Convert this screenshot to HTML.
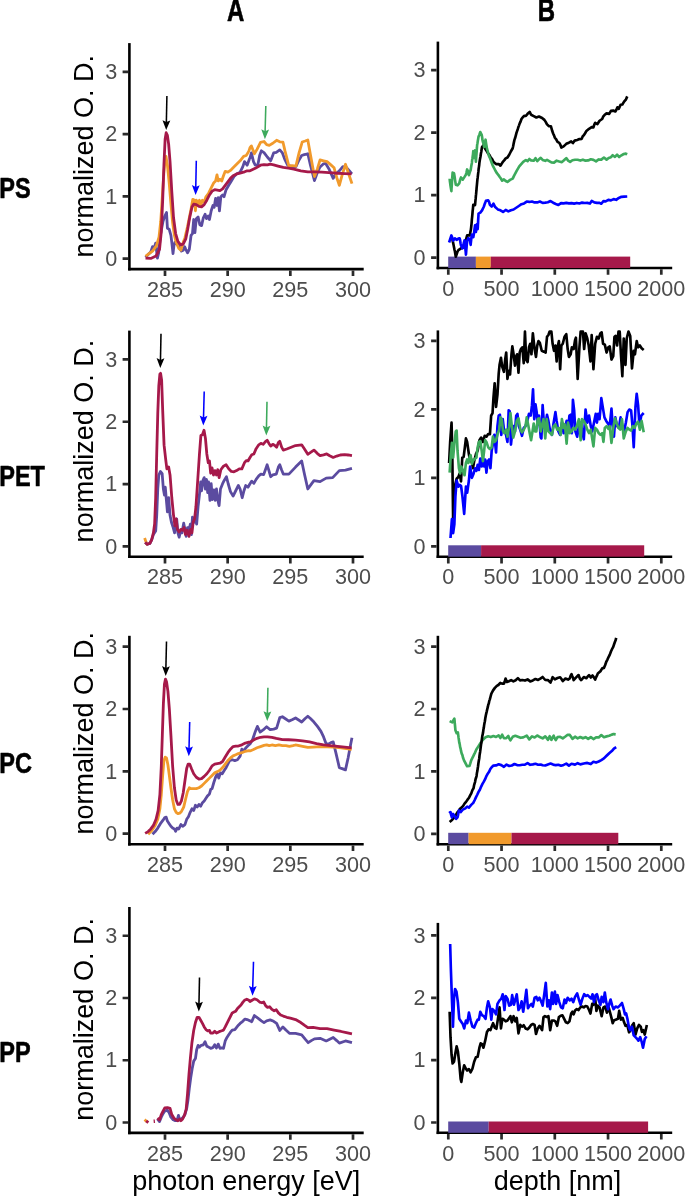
<!DOCTYPE html>
<html lang="en">
<head>
<meta charset="utf-8">
<title>NEXAFS spectra and depth profiles</title>
<style>html,body{margin:0;padding:0;background:#fff}svg{display:block;will-change:transform}</style>
</head>
<body>
<svg width="685" height="1198" viewBox="0 0 685 1198" font-family="&quot;Liberation Sans&quot;, Arial, Helvetica, sans-serif">
<rect x="0" y="0" width="685" height="1198" fill="#fff"/>
<path d="M129.4 43.1V270.4" stroke="#000" stroke-width="2.6" fill="none"/>
<path d="M128.1 269.1H363.7" stroke="#000" stroke-width="2.6" fill="none"/>
<path d="M122.6 258.7h5.5M122.6 196.43h5.5M122.6 134.16h5.5M122.6 71.89h5.5M165 270.4v5.5M227.66 270.4v5.5M290.33 270.4v5.5M353 270.4v5.5" stroke="#2b2b2b" stroke-width="2.7" fill="none"/>
<g font-size="21.6" fill="#4D4D4D">
<text x="117.2" y="265.9" text-anchor="end">0</text>
<text x="117.2" y="203.63" text-anchor="end">1</text>
<text x="117.2" y="141.36" text-anchor="end">2</text>
<text x="117.2" y="79.09" text-anchor="end">3</text>
<text x="165" y="296.8" text-anchor="middle">285</text>
<text x="227.66" y="296.8" text-anchor="middle">290</text>
<text x="290.33" y="296.8" text-anchor="middle">295</text>
<text x="353" y="296.8" text-anchor="middle">300</text>
</g>
<path d="M437.9 41.6V269.3" stroke="#000" stroke-width="2.6" fill="none"/>
<path d="M436.6 268H672.2" stroke="#000" stroke-width="2.6" fill="none"/>
<path d="M431.1 257.6h5.5M431.1 195.13h5.5M431.1 132.66h5.5M431.1 70.19h5.5M448.3 269.3v5.5M501.55 269.3v5.5M554.8 269.3v5.5M608.05 269.3v5.5M661.3 269.3v5.5" stroke="#2b2b2b" stroke-width="2.7" fill="none"/>
<g font-size="21.6" fill="#4D4D4D">
<text x="425.4" y="264.8" text-anchor="end">0</text>
<text x="425.4" y="202.33" text-anchor="end">1</text>
<text x="425.4" y="139.86" text-anchor="end">2</text>
<text x="425.4" y="77.39" text-anchor="end">3</text>
<text x="448.3" y="295.7" text-anchor="middle">0</text>
<text x="501.55" y="295.7" text-anchor="middle">500</text>
<text x="554.8" y="295.7" text-anchor="middle">1000</text>
<text x="608.05" y="295.7" text-anchor="middle">1500</text>
<text x="661.3" y="295.7" text-anchor="middle">2000</text>
</g>
<rect x="448.2" y="256.6" width="27.7" height="11.4" fill="#5B4BA0"/>
<rect x="475.9" y="256.6" width="14.9" height="11.4" fill="#F19A2C"/>
<rect x="490.8" y="256.6" width="139.4" height="11.4" fill="#A6194A"/>
<path d="M145.51 257.2L148.14 254.57L150.77 251.94L152.52 246.69L154.27 247.56L155.67 243.18L157.42 258.08L158.65 252.82L160.4 235.29L163.03 221.27L164.78 216.01L166.53 212.5L167.41 228.28L169.16 229.16L170.91 235.29L171.79 242.3L173.01 253.7L173.89 245.81L174.94 242.3L177.04 244.06L179.67 247.56L181.42 251.07L183.18 250.19L184.58 246.69L185.8 249.32L187.55 252.82L189.31 249.32L191.06 235.29L192.46 233.54L193.69 219.52L194.91 232.66L196.31 218.64L198.07 216.89L199.82 224.77L201.57 225.65L203.32 217.76L205.07 214.26L206.47 218.64L208.23 216.01L209.45 219.52L211.2 210.75L212.96 205.49L214.18 207.25L215.58 198.48L216.99 205.49L218.21 197.6L219.44 210.75L220.84 196.73L222.59 194.97L223.99 196.73L226.09 189.72L228.72 185.33L231.35 180.95L233.98 176.57L236.61 173.94L240.11 172.19L242.74 166.93L244.49 161.67L247.12 165.18L249.74 158.16L250 158.16L251.4 152.9L253.5 161.67L255.26 165.18L257.88 164.82L259.64 155.53L261.39 150.8L264.01 152.55L267.52 157.29L270.67 160.79L273.65 152.9L276.28 152.38L279.78 149.92L282.41 152.9L285.04 159.92L287.66 165.18L292.04 166.58L295.9 166.58L299.05 159.92L301.68 155.53L304.31 154.66L307.81 153.78L310.44 165.18L314.47 180.6L317.45 172.19L320.07 166.93L323.58 163.77L325.68 163.42L328.83 168.68L333.21 178.32L335.84 173.94L339.34 170.78L342.85 166.58L346.35 167.28L348.98 170.43L351.96 173.94" stroke="#5B4BA0" stroke-width="2.8" fill="none" stroke-linejoin="round" stroke-linecap="butt"/>
<path d="M145.51 256.33L149.01 253.7L152.52 251.07L156.37 245.81L159 237.05L160.75 221.27L162.33 196.73L163.91 172.19L165.13 159.04L166.01 156.41L167.41 165.18L169.16 182.7L170.91 203.74L172.66 223.02L174.42 235.29L176.17 242.3L178.8 248.44L180.9 250.19L183.18 242.3L184.93 237.92L187.55 226.53L191.06 209L192.81 199.36L194.56 200.23L195.44 210.75L196.31 200.23L198.07 203.74L199.47 200.23L200.69 205.49L202.45 200.23L204.2 201.99L205.95 196.73L208.58 193.22L211.2 187.96L213.83 182.7L215.58 180.95L216.99 174.82L218.21 180.95L219.96 179.2L221.72 180.95L223.47 175.69L225.22 171.31L227.85 172.19L230.47 170.43L233.1 167.8L236.61 164.3L240.11 160.79L243.61 156.41L246.24 155.53L248.87 151.15L250 147.65L251.4 145.89L254.38 153.78L257.01 149.4L260.51 142.39L264.01 141.51L266.64 144.67L269.27 145.37L272.77 143.26L276.63 140.28L279.78 141.86L282.93 142.04L285.04 151.15L288.89 166.05L292.04 165.53L295.9 166.05L299.05 152.9L302.2 142.04L305.18 140.98L307.81 139.93L310.44 154.66L314.47 176.57L317.45 168.68L320.07 159.92L323.58 160.79L327.08 161.67L330.58 164.65L334.09 167.8L336.72 177.45L339.34 185.33L341.97 175.69L345.47 164.3L348.1 172.19L351.96 183.58" stroke="#F19A2C" stroke-width="2.8" fill="none" stroke-linejoin="round" stroke-linecap="butt"/>
<path d="M145.51 258.08L150.77 258.43L156.02 255.98L159.53 249.32L161.28 231.79L162.68 200.23L163.91 165.18L165.13 138.88L166.18 132.75L167.41 135.38L168.64 144.14L170.04 161.67L171.79 191.47L173.54 217.76L175.64 233.54L177.92 241.43L180.55 244.93L183.18 244.06L185.8 238.8L187.55 230.03L189.66 217.76L191.93 207.25L193.69 204.09L196.31 204.62L198.94 206.37L201.57 206.89L204.2 204.62L206.82 200.23L209.45 194.97L212.08 191.12L214.71 189.72L217.34 190.07L219.96 190.59L222.59 188.84L225.22 185.33L227.85 181.83L230.47 178.32L233.1 175.69L236.61 173.94L240.11 173.06L243.61 172.19L247.12 170.78L250 170.78L255.26 168.33L260.51 165.18L264.01 164.65L267.52 164.82L270.15 164.12L273.65 164.82L278.03 166.05L283.28 167.45L288.54 168.16L293.8 169.03L300.8 170.78L307.81 171.84L314.82 171.84L321.82 172.19L328.83 172.54L337.59 173.24L344.6 173.59L351.61 173.94" stroke="#A6194A" stroke-width="2.8" fill="none" stroke-linejoin="round" stroke-linecap="butt"/>
<path d="M452.26 238.13L452.7 240.94L453.14 242.9L453.58 244.98L454.01 247.28L454.45 249.56L454.89 251.28L455.33 254.02L455.77 256.78L456.64 254.33L457.52 251.66L458.39 250.19L461.02 248.31L463.65 247.53L464.31 245.77L464.96 243.32L465.62 240.88L466.28 238.59L467.15 235.41L469.78 235.44L470.13 233.46L470.48 231.62L470.83 230.05L471.18 227.1L471.36 225.37L471.53 223.82L471.71 221.68L471.88 219.11L472.06 217.6L472.23 215.78L472.41 214.09L472.63 211.2L472.85 209.37L473.07 207.11L473.28 204.73L475.04 205.09L475.26 202.56L475.47 200.34L475.69 198.44L475.91 195.53L476.09 194.21L476.26 192.16L476.44 190.47L476.61 187.85L476.79 186.18L476.96 184.4L477.14 182.42L477.39 179.65L477.64 177.97L477.9 175.55L478.15 173.44L478.4 171.64L478.66 168.67L478.91 167.09L479.16 165.51L479.42 162.74L479.79 160.33L480.17 158.3L480.54 156.19L480.92 153.53L481.29 151.73L481.67 148.97L482.04 147.09L483.45 145.16L485.2 148.76L486.69 151.06L488.18 153.57L489.49 155.19L490.8 157.6L492.12 159.18L493.43 161.89L494.74 162.97L496.06 164.11L498.69 164.03L500.44 165.69L501.75 163.59L503.07 161.57L504.38 160.14L505.69 158.38L507.45 157.52L509.2 154.74L510.95 151.26L512.7 148.26L513.14 146.25L513.58 143.9L514.01 141.9L514.45 139.89L515.11 138.07L515.77 135.59L516.42 133.05L517.08 131.18L517.74 129.22L518.39 127.05L519.05 125.36L519.71 123.38L520.58 121.61L521.46 119L522.77 117.27L524.09 115.76L525.84 115.98L527.59 113.84L529.69 111.9L531.09 114.74L533.72 116.09L536.35 117.51L538.98 116.51L542.1 117.98L544.38 119.86L545.69 121.9L547.01 124.41L548.76 126.07L550.86 126.23L551.56 128.6L552.26 131.04L553.14 133.47L554.01 135.34L554.89 137.74L556.2 139.35L557.52 141.94L559.27 142.86L560.32 144.67L561.37 147.53L563.65 146.36L566.28 143.84L568.91 142.71L571.18 141.47L572.93 143.07L574.69 140.62L577.14 139.94L579.42 139.11L581.69 138.87L582.74 136.16L583.8 135.25L585.11 133.25L586.42 130.94L589.05 128.76L591.68 127.15L593.43 127.38L594.31 124.64L595.18 122.78L597.46 124.08L599.56 120.77L602.19 118.99L603.33 116.29L604.47 115.02L606.57 113.38L609.2 113.91L610.95 110.89L613.23 110.57L615.33 111.5L616.38 109.77L617.43 107.25L618.83 108.79L619.71 106.73L620.58 104.72L622.34 104.46L624.09 101.65L625.84 99.66L627.24 96.38" stroke="#000000" stroke-width="2.65" fill="none" stroke-linejoin="round" stroke-linecap="butt"/>
<path d="M449.64 178.58L449.93 181.54L450.22 183.65L450.51 185.88L450.95 188.61L451.39 191.11L451.52 188.38L451.66 186.66L451.8 184.98L451.93 182.53L452.07 179.86L452.2 178.39L452.34 176.22L452.48 174.26L452.61 172.65L454.01 173.27L454.36 175.29L454.72 177.47L455.07 180.07L455.42 182.38L455.77 184.65L457.52 185.29L459.27 183.43L460.15 179.82L461.02 177.46L462.77 179.66L464.53 176.9L465.93 174.58L466.34 173.03L466.74 171.16L467.15 169.43L467.74 170.78L468.32 173.17L468.91 175.15L469.78 172.33L470.66 170.06L471.07 167.39L471.47 165.02L471.88 162.97L472.16 159.98L472.44 158.38L472.72 156.06L473 154.09L473.28 151.2L473.58 153.57L473.87 155.84L474.16 157.9L474.45 154.94L474.74 153.07L475.04 150.45L475.21 152.58L475.39 155.02L475.56 156.29L475.74 158.95L475.91 161.62L476.09 158.74L476.26 156.33L476.44 154.3L476.61 152.19L476.79 149.53L476.96 147.73L477.14 144.96L477.49 143.15L477.84 140.78L478.19 138.69L478.54 136.61L479.42 134.74L480.29 131.99L481.69 134.83L482.1 136.99L482.51 140.29L482.92 141.95L483.53 143.97L484.15 146.87L484.61 144.97L485.08 142.28L485.55 139.68L485.9 142.19L486.25 144.37L486.6 146.57L486.95 148.61L487.65 150.97L488.35 153.81L489.05 156.1L489.93 158.05L490.8 160.36L491.68 162.66L492.55 165.07L493.43 166.82L494.31 168.51L495.62 171.02L496.93 173.23L498.25 174.77L499.56 176.8L500.88 178.55L502.19 180.71L503.94 179.42L505.69 181.02L507.45 181.95L510.07 179.91L512.7 178.64L514.01 175.82L515.33 173.41L516.64 170.9L517.96 168.65L519.27 166.42L520.58 164.92L523.21 161.89L525.84 159.99L527.59 161.19L529.34 159L531.09 160.38L533.72 160.65L535.47 158.19L537.23 161.2L538.98 159.27L540.73 157.88L542.63 159.92L545.26 160.85L547.01 159.85L548.76 160.87L551.39 162.41L554.01 162.64L556.64 160.66L559.27 161.45L561.9 162.13L564.53 159.71L566.28 158.13L568.03 160.61L570.13 161.87L572.41 160.24L575.04 159.8L577.66 159.77L580.29 160.57L582.92 159.66L585.55 160.64L588.18 160.42L590.8 159.25L593.43 159.84L596.06 161.31L598.69 159.45L601.31 159.65L603.94 157.52L606.57 159.63L608.67 157.93L610.95 157.16L612.7 155.24L614.98 156.95L617.08 154.71L619.18 157.03L621.46 155.3L623.74 154.01L625.84 153.62L627.24 154.19" stroke="#3DAA5C" stroke-width="2.65" fill="none" stroke-linejoin="round" stroke-linecap="butt"/>
<path d="M449.11 242.5L450.16 239.14L451.39 235.41L452.26 237.8L453.14 240.63L454.89 238.41L456.64 239.8L458.39 238.63L459.62 238.26L460.09 239.97L460.55 243.24L461.02 245.48L462.42 248.3L463.04 246.86L463.65 243.69L464.53 240.37L464.76 242.82L464.99 244.78L465.23 247.23L465.46 249.73L465.69 251.6L465.93 254.64L466.13 252.64L466.34 249.49L466.54 247.56L466.74 244.54L466.95 243.19L467.15 240.72L468.38 238.16L469.78 239.86L470.22 242.28L470.66 244.88L470.9 242.24L471.15 240.04L471.39 237.79L471.64 235.89L471.88 234.59L473.28 237.15L473.72 234.75L474.16 232.12L474.45 229.84L474.74 227.65L475.04 225.41L475.33 227.67L475.62 229.7L475.91 232.02L476.2 229.64L476.5 226.49L476.79 224.31L477.23 226.97L477.66 229.19L477.79 227.69L477.91 224.93L478.04 223.13L478.16 220.09L478.29 218.03L478.42 216.13L478.54 213.62L480.29 212.61L482.04 210.44L483.8 206.73L484.5 204.6L485.2 202.85L485.9 200.88L488.18 200.24L489.05 201.95L489.93 204.86L491.68 206.52L493.43 203.68L494.31 205.57L495.18 206.95L497.81 209.4L500.44 210.31L503.07 211.97L505.69 209.92L508.32 211.37L510.95 210.18L513.58 209.52L516.2 207.74L518.83 205.99L521.46 204.21L524.09 203.4L526.72 201.56L529.34 201.93L531.97 201.46L534.6 202.44L537.23 202.41L539.85 201.53L542.63 202.84L545.26 202.65L547.88 202.23L550.51 201.05L553.14 202.72L555.77 203.95L558.39 204.97L561.02 203.06L563.65 203.32L566.28 202.88L568.91 203.42L571.53 203.15L574.16 203.6L576.79 202.95L579.42 203.52L582.04 202.6L584.67 203.04L587.3 202.9L589.93 203.57L591.68 200.91L594.31 202.42L596.93 202.83L599.56 202.88L601.31 203.76L603.42 201.19L605.69 201.35L608.32 199.92L610.95 200.34L613.58 199.11L616.2 199.83L618.83 197.95L621.46 196.82L624.09 196.67L627.24 196.52" stroke="#0000FF" stroke-width="2.65" fill="none" stroke-linejoin="round" stroke-linecap="butt"/>
<path d="M166.9 95.9L166.34 123.3" stroke="#000000" stroke-width="1.55" fill="none"/>
<path d="M166.2 130.1L162.5 120.22L166.36 122.1L170.3 120.38Z" fill="#000000"/>
<path d="M196.3 160.8L195.74 188.2" stroke="#0000FF" stroke-width="1.55" fill="none"/>
<path d="M195.6 195L191.9 185.12L195.76 187L199.7 185.28Z" fill="#0000FF"/>
<path d="M265.8 105.9L265.08 132.4" stroke="#3DAA5C" stroke-width="1.55" fill="none"/>
<path d="M264.9 139.2L261.27 129.3L265.12 131.2L269.06 129.51Z" fill="#3DAA5C"/>
<text transform="translate(92.8 156.3) rotate(-90)" font-size="27.0" text-anchor="middle" fill="#000">normalized O. D.</text>
<text transform="translate(-0.8 198.3) scale(0.779 1)" font-size="30.2" font-weight="bold" fill="#000" stroke="#000" stroke-width="0.6" stroke-linejoin="round">PS</text>
<path d="M129.4 330.6V558" stroke="#000" stroke-width="2.6" fill="none"/>
<path d="M128.1 556.7H363.7" stroke="#000" stroke-width="2.6" fill="none"/>
<path d="M122.6 546.4h5.5M122.6 484.07h5.5M122.6 421.74h5.5M122.6 359.41h5.5M165 558v5.5M227.66 558v5.5M290.33 558v5.5M353 558v5.5" stroke="#2b2b2b" stroke-width="2.7" fill="none"/>
<g font-size="21.6" fill="#4D4D4D">
<text x="117.2" y="553.6" text-anchor="end">0</text>
<text x="117.2" y="491.27" text-anchor="end">1</text>
<text x="117.2" y="428.94" text-anchor="end">2</text>
<text x="117.2" y="366.61" text-anchor="end">3</text>
<text x="165" y="584.4" text-anchor="middle">285</text>
<text x="227.66" y="584.4" text-anchor="middle">290</text>
<text x="290.33" y="584.4" text-anchor="middle">295</text>
<text x="353" y="584.4" text-anchor="middle">300</text>
</g>
<path d="M437.9 330.4V558" stroke="#000" stroke-width="2.6" fill="none"/>
<path d="M436.6 556.7H672.2" stroke="#000" stroke-width="2.6" fill="none"/>
<path d="M431.1 546.3h5.5M431.1 477.8h5.5M431.1 409.3h5.5M431.1 340.8h5.5M448.3 558v5.5M501.55 558v5.5M554.8 558v5.5M608.05 558v5.5M661.3 558v5.5" stroke="#2b2b2b" stroke-width="2.7" fill="none"/>
<g font-size="21.6" fill="#4D4D4D">
<text x="425.4" y="553.5" text-anchor="end">0</text>
<text x="425.4" y="485" text-anchor="end">1</text>
<text x="425.4" y="416.5" text-anchor="end">2</text>
<text x="425.4" y="348" text-anchor="end">3</text>
<text x="448.3" y="584.4" text-anchor="middle">0</text>
<text x="501.55" y="584.4" text-anchor="middle">500</text>
<text x="554.8" y="584.4" text-anchor="middle">1000</text>
<text x="608.05" y="584.4" text-anchor="middle">1500</text>
<text x="661.3" y="584.4" text-anchor="middle">2000</text>
</g>
<rect x="448.2" y="545.3" width="32.9" height="11.4" fill="#5B4BA0"/>
<rect x="481.1" y="545.3" width="163.1" height="11.4" fill="#A6194A"/>
<path d="M144.64 538.08L145.86 541.59L147.61 545.44" stroke="#F19A2C" stroke-width="2.8" fill="none" stroke-linejoin="round" stroke-linecap="butt"/>
<path d="M145.16 542.46L147.26 544.22L149.89 543.34L151.64 539.83L153.39 534.57L155.67 531.07L156.72 515.29L157.77 489L158.82 474.97L160.4 471.47L162.15 473.57L163.38 489L164.43 495.13L165.31 487.25L166.18 497.76L167.41 511.79L168.64 497.76L170.04 515.29L171.44 522.3L173.19 527.56L174.59 532.82L175.64 525.81L176.69 518.8L177.92 532.82L179.15 537.2L180.55 531.07L181.95 532.82L183.7 523.18L184.93 529.32L186.15 536.33L187.55 527.56L188.96 530.19L190.36 524.06L191.41 534.57L192.46 517.05L193.86 522.3L195.44 518.8L196.66 524.06L198.07 506.53L199.47 494.26L200.69 481.99L201.57 490.75L202.97 480.23L204.2 477.6L205.42 489L206.47 479.36L207.7 492.5L208.58 481.99L209.98 500.39L211.2 483.74L212.43 499.52L213.83 489.87L215.23 500.39L216.46 489L217.69 499.52L219.09 505.65L220.49 489L222.59 483.74L224.34 480.23L226.45 476.73L228.2 483.74L230.47 491.63L233.1 496.01L235.73 490.75L238.36 485.49L240.11 489L242.21 497.76L243.96 490.75L245.72 485.49L247.99 487.25L250 483.74L251.75 481.11L253.85 483.39L256.13 479.36L258.76 475.85L260.86 474.1L263.66 474.62L265.77 468.84L267.17 464.81L268.92 470.59L270.67 476.73L272.77 474.97L276.28 474.1L278.38 467.09L279.78 464.81L281.53 469.72L283.28 474.1L288.89 474.1L295.55 467.09L301.68 460.95L304.66 474.97L307.81 489L310.96 484.62L313.94 480.58L320.07 481.64L326.2 478.13L332.69 477.6L339.34 470.59L345.47 470.07L351.96 468.31" stroke="#5B4BA0" stroke-width="2.8" fill="none" stroke-linejoin="round" stroke-linecap="butt"/>
<path d="M145.16 542.46L147.26 544.22L149.89 543.34L151.64 539.83L153.39 532.82L154.62 524.06L155.67 497.76L156.72 453.94L157.77 413.62L158.82 385.58L159.88 374.18L160.58 373.31L161.63 380.32L162.68 410.12L164.08 445.18L165.66 459.2L166.88 468.84L168.64 467.09L170.04 474.97L171.79 497.76L173.54 515.29L174.94 525.81L176.17 518.8L177.39 529.32L179.15 531.94L180.9 529.32L182.65 530.19L184.05 527.56L185.45 534.57L187.2 530.19L188.96 536.33L190.71 529.32L191.93 532.82L193.16 522.3L194.56 518.8L195.96 506.53L197.72 480.23L199.47 453.94L200.87 435.53L202.45 434.66L204.02 430.28L205.42 438.16L206.82 453.94L208.23 462.7L209.45 460.95L210.68 473.22L212.08 467.96L213.48 474.97L214.88 470.59L216.46 474.97L217.69 469.72L219.09 477.6L220.84 469.72L223.47 466.21L226.09 464.81L228.72 468.84L231.35 471.47L233.98 471.82L236.61 470.59L239.23 468.84L241.86 468.84L244.49 462.7L246.24 460.6L247.99 460.95L250 457.45L251.75 454.82L253.85 453.94L256.13 448.68L258.76 444.82L260.86 443.42L263.14 444.3L265.42 441.67L267.17 440.27L268.92 443.42L270.67 446.05L272.77 444.3L274.53 445.18L276.63 447.28L278.38 442.55L279.78 441.32L281.53 446.93L283.28 450.08L286.79 449.03L291.17 447.28L295.55 445.53L301.68 444.82L304.31 448.68L307.81 454.29L310.96 452.19L313.94 450.08L317.45 453.59L320.07 455.69L323.58 454.82L326.73 453.94L329.71 455.69L333.21 457.45L336.72 456.04L340.22 454.99L344.6 454.64L348.1 454.99L351.96 455.69" stroke="#A6194A" stroke-width="2.8" fill="none" stroke-linejoin="round" stroke-linecap="butt"/>
<path d="M449.11 462.97L450.16 441.94L451.56 422.66L452.26 450.7L453.14 520.82L454.89 485.76L456.64 478.75L458.39 477L459.62 473.49L461.02 481.38L462.25 457.72L463.65 456.84L464.88 447.2L465.93 438.43L467.15 441.94L468.91 454.21L470.13 461.22L471.53 459.47L472.93 468.23L474.16 461.22L475.91 454.21L477.66 450.7L479.42 440.19L481.17 437.56L482.92 441.94L484.67 435.8L486.42 436.68L488.18 434.05L489.93 434.05L491.15 415.65L492.55 413.02L493.43 398.12L494.66 383.22L496.06 406.88L497.46 394.61L498.69 373.58L499.56 364.81L500.96 357.8L502.19 366.56L503.94 371.82L505.17 359.55L506.22 352.54L507.45 378.83L508.67 370.95L510.07 374.45L511.47 354.29L512.35 346.41L513.58 354.29L514.98 365.69L516.2 356.05L517.08 354.29L518.48 372.7L519.71 352.54L520.93 349.04L522.34 347.28L523.74 363.06L524.96 331.51L526.19 359.55L527.59 362.18L528.99 347.28L530.22 343.78L531.45 354.29L532.85 333.26L534.6 349.04L536 356.92L537.23 345.53L538.45 341.15L539.85 342.9L541.75 350.79L543.85 351.66L545.61 352.54L547.01 336.76L548.41 335.01L549.64 331.51L551.39 331.51L552.61 343.78L554.01 350.79L555.42 345.53L556.64 361.31L557.52 347.28L558.92 341.15L560.15 369.19L561.37 345.53L562.77 343.78L564.53 336.76L566.28 334.14L567.68 349.04L568.91 356.92L570.66 354.29L571.88 347.28L573.64 349.04L575.04 340.27L575.91 337.64L577.66 378.83L579.42 347.28L580.64 331.51L582.92 331.51L584.15 349.04L585.55 333.26L587.3 338.52L588.7 345.53L590.45 361.31L591.68 335.01L593.43 369.19L595.18 343.78L596.93 336.76L598.69 338.52L600.44 333.26L601.66 332.38L603.07 343.78L604.82 344.65L606.57 352.54L608.32 347.28L609.72 346.41L611.47 359.55L613.23 356.05L614.45 336.76L615.68 335.89L617.08 345.53L618.48 331.51L619.71 331.51L620.93 354.29L622.34 376.21L623.74 338.52L625.49 364.81L626.72 338.52L628.47 331.51L630.22 335.89L631.97 368.32L633.72 350.79L634.95 354.29L636.7 341.15L638.1 347.28L639.85 345.53L641.61 348.16L643.71 349.91" stroke="#000000" stroke-width="2.65" fill="none" stroke-linejoin="round" stroke-linecap="butt"/>
<path d="M450.51 538L451.91 519.07L453.14 533.09L454.36 524.33L455.42 496.28L456.64 480.5L458.39 486.64L459.62 484.89L461.02 485.76L462.42 496.28L464.18 513.81L465.93 486.64L467.15 492.77L468.91 480.5L470.13 466.48L471.88 477.87L473.64 473.49L475.04 468.23L476.44 470.86L477.66 464.73L478.89 469.99L480.29 458.59L481.69 466.48L482.92 457.72L484.15 466.48L485.2 459.47L486.42 472.62L487.65 461.22L489.05 459.47L490.45 468.23L491.68 450.7L492.91 443.69L494.31 434.93L496.06 452.46L497.46 426.16L498.69 415.65L499.91 414.77L501.31 434.93L502.72 419.15L503.94 429.67L505.69 433.18L507.45 441.94L508.67 410.39L509.72 411.26L510.95 444.57L512.18 433.18L513.58 426.16L514.98 431.42L516.2 415.65L517.43 413.89L518.83 426.16L520.23 429.67L521.99 435.8L523.74 427.92L525.49 426.16L527.24 420.9L528.99 413.89L530.74 415.65L531.97 405.13L533.02 389.35L534.25 419.15L535.47 404.25L536.7 412.14L537.75 424.41L538.98 415.65L540.73 437.56L541.4 438.43L542.63 405.13L543.85 422.66L545.26 426.16L547.01 414.77L548.41 420.9L550.16 431.42L551.91 434.93L553.66 422.66L555.42 412.14L556.64 420.9L558.39 431.42L560.15 434.93L561.9 422.66L563.65 433.18L565.4 426.16L566.63 420.9L568.03 429.67L569.43 415.65L570.66 414.77L571.88 433.18L572.93 399.87L574.16 410.39L575.39 431.42L577.14 436.68L578.89 426.16L580.64 422.66L582.04 429.67L583.8 439.31L585.55 409.51L587.3 422.66L589.05 415.65L590.8 426.16L592.2 431.42L593.96 422.66L595.71 413.89L596.93 422.66L598.16 413.89L599.56 419.15L601.31 398.12L602.72 406.88L604.47 417.4L606.22 420.9L607.97 423.53L609.72 426.16L611.47 408.63L612.7 426.16L613.93 436.68L615.33 417.4L617.08 426.16L618.83 427.92L620.58 417.4L622.34 426.16L624.09 431.42L625.84 422.66L627.59 412.14L629.34 409.51L631.09 410.39L632.5 426.16L633.72 447.2L635.47 406.88L636.7 393.73L638.1 405.13L639.5 426.16L641.26 415.65L643.71 413.02" stroke="#0000FF" stroke-width="2.65" fill="none" stroke-linejoin="round" stroke-linecap="butt"/>
<path d="M449.64 472.62L450.86 454.21L451.91 442.82L453.14 457.72L454.36 443.69L455.77 431.42L456.64 430.55L457.52 450.7L458.92 468.23L460.15 473.49L461.37 466.48L462.77 469.99L464.53 475.25L465.93 462.97L467.15 459.47L468.38 462.97L469.78 456.84L470.66 455.09L471.88 463.85L473.28 460.35L475.04 458.59L476.44 457.72L477.66 447.2L478.89 441.94L480.29 441.06L481.69 450.7L482.92 461.22L484.15 450.7L485.2 440.19L486.42 441.94L488.18 447.2L489.93 448.95L491.68 447.2L492.91 436.68L494.31 441.94L496.06 440.19L497.81 433.18L499.21 429.67L500.44 417.4L501.66 419.15L503.07 431.42L504.47 433.18L506.22 429.67L507.45 436.68L509.2 426.16L510.42 413.02L511.82 426.16L513.23 437.56L514.98 431.42L516.73 420.9L518.48 418.28L520.23 428.79L521.99 432.3L523.74 429.67L525.49 426.16L526.72 417.4L528.47 426.16L529.69 433.18L531.09 440.19L532.5 431.42L533.72 423.53L534.95 431.42L536.35 431.42L537.75 419.15L538.98 418.28L540.73 431.42L541.75 426.16L543.5 419.15L545.26 438.43L546.66 419.15L548.41 431.42L550.16 433.18L551.91 434.93L553.66 426.16L555.42 424.41L557.17 429.67L558.92 427.92L560.67 434.93L561.9 419.15L563.65 427.92L564.88 424.41L566.63 443.69L568.03 422.66L569.78 433.18L571.53 431.42L573.28 427.92L575.04 429.67L576.79 426.16L578.89 419.15L580.64 440.19L582.04 419.15L583.8 420.9L585.55 424.41L587.3 429.67L589.05 433.18L590.8 429.67L593.43 446.32L595.18 427.92L596.93 429.67L598.69 433.18L600.44 434.93L602.19 433.18L603.42 441.94L604.82 427.92L606.57 426.16L608.32 428.79L609.72 426.16L611.47 442.82L613.23 427.92L614.98 418.28L616.73 423.53L618.48 427.92L620.23 429.67L621.99 419.15L623.74 438.43L625.84 431.42L627.59 427.92L629.34 429.67L631.09 430.55L632.85 426.16L634.6 427.92L636.35 423.53L638.1 421.78L639.85 429.67L641.61 420.9L643.71 432.3" stroke="#3DAA5C" stroke-width="2.65" fill="none" stroke-linejoin="round" stroke-linecap="butt"/>
<path d="M161 333.8L160.44 361.1" stroke="#000000" stroke-width="1.55" fill="none"/>
<path d="M160.3 367.9L156.6 358.02L160.46 359.9L164.4 358.18Z" fill="#000000"/>
<path d="M204.2 391.4L203.48 418.7" stroke="#0000FF" stroke-width="1.55" fill="none"/>
<path d="M203.3 425.5L199.66 415.6L203.51 417.5L207.46 415.81Z" fill="#0000FF"/>
<path d="M267 401.7L266.44 428.7" stroke="#3DAA5C" stroke-width="1.55" fill="none"/>
<path d="M266.3 435.5L262.6 425.62L266.47 427.5L270.4 425.78Z" fill="#3DAA5C"/>
<text transform="translate(92.8 441.1) rotate(-90)" font-size="27.0" text-anchor="middle" fill="#000">normalized O. D.</text>
<text transform="translate(-0.8 485.9) scale(0.779 1)" font-size="30.2" font-weight="bold" fill="#000" stroke="#000" stroke-width="0.6" stroke-linejoin="round">PET</text>
<path d="M129.4 635.8V845.6" stroke="#000" stroke-width="2.6" fill="none"/>
<path d="M128.1 844.3H363.7" stroke="#000" stroke-width="2.6" fill="none"/>
<path d="M122.6 833.6h5.5M122.6 771.3h5.5M122.6 709h5.5M122.6 646.7h5.5M165 845.6v5.5M227.66 845.6v5.5M290.33 845.6v5.5M353 845.6v5.5" stroke="#2b2b2b" stroke-width="2.7" fill="none"/>
<g font-size="21.6" fill="#4D4D4D">
<text x="117.2" y="840.8" text-anchor="end">0</text>
<text x="117.2" y="778.5" text-anchor="end">1</text>
<text x="117.2" y="716.2" text-anchor="end">2</text>
<text x="117.2" y="653.9" text-anchor="end">3</text>
<text x="165" y="872" text-anchor="middle">285</text>
<text x="227.66" y="872" text-anchor="middle">290</text>
<text x="290.33" y="872" text-anchor="middle">295</text>
<text x="353" y="872" text-anchor="middle">300</text>
</g>
<path d="M437.9 635.8V845.5" stroke="#000" stroke-width="2.6" fill="none"/>
<path d="M436.6 844.2H672.2" stroke="#000" stroke-width="2.6" fill="none"/>
<path d="M431.1 833.8h5.5M431.1 771.4h5.5M431.1 709h5.5M431.1 646.6h5.5M448.3 845.5v5.5M501.55 845.5v5.5M554.8 845.5v5.5M608.05 845.5v5.5M661.3 845.5v5.5" stroke="#2b2b2b" stroke-width="2.7" fill="none"/>
<g font-size="21.6" fill="#4D4D4D">
<text x="425.4" y="841" text-anchor="end">0</text>
<text x="425.4" y="778.6" text-anchor="end">1</text>
<text x="425.4" y="716.2" text-anchor="end">2</text>
<text x="425.4" y="653.8" text-anchor="end">3</text>
<text x="448.3" y="871.9" text-anchor="middle">0</text>
<text x="501.55" y="871.9" text-anchor="middle">500</text>
<text x="554.8" y="871.9" text-anchor="middle">1000</text>
<text x="608.05" y="871.9" text-anchor="middle">1500</text>
<text x="661.3" y="871.9" text-anchor="middle">2000</text>
</g>
<rect x="448.2" y="832.8" width="20.4" height="11.4" fill="#5B4BA0"/>
<rect x="468.6" y="832.8" width="42.9" height="11.4" fill="#F19A2C"/>
<rect x="511.5" y="832.8" width="106.8" height="11.4" fill="#A6194A"/>
<path d="M152.52 834.22L155.15 831.59L157.77 828.08L160.4 823.7L163.03 820.19L164.78 817.56L166.18 817.21L167.41 821.07L169.16 823.7L170.91 826.33L172.66 828.08L174.42 828.96L175.64 831.24L177.04 828.08L178.8 828.96L180.9 824.57L182.65 826.33L184.93 824.57L186.68 819.32L188.43 816.69L190.18 812.3L191.93 808.8L193.69 810.55L195.44 805.29L197.19 807.05L198.94 804.42L200.69 806.17L202.45 802.66L204.2 800.91L205.95 798.28L207.7 795.65L209.45 793.9L210.68 789.52L212.08 788.64L213.83 782.5L215.58 777.25L217.34 773.74L218.74 778.12L220.49 772.86L222.24 773.74L224.34 770.23L226.09 767.6L227.85 764.1L229.6 760.59L232.23 759.72L234.85 760.59L237.48 759.72L240.11 756.21L241.86 749.2L243.61 750.95L246.24 747.45L248.87 744.82L250 743.94L252.63 739.56L255.26 731.67L257.36 726.41L260.16 732.02L263.14 729.92L266.64 726.76L270.15 729.57L273.65 729.04L276.63 728.16L279.78 717.65L282.41 716.77L285.04 718.52L288.89 721.15L292.04 719.75L295.55 718L299.05 720.28L301.68 722.03L305.18 718.52L307.81 716.24L310.44 718.52L313.94 722.03L317.45 726.41L320.95 731.32L323.58 736.93L326.2 743.94L328.83 743.94L330.93 742.54L333.21 741.84L335.84 752.7L339.34 767.6L342.85 768.83L345.47 769.88L348.1 757.96L350.73 743.94L351.96 737.8" stroke="#5B4BA0" stroke-width="2.8" fill="none" stroke-linejoin="round" stroke-linecap="butt"/>
<path d="M148.14 834.22L151.64 830.71L155.15 825.45L157.77 819.32L159.88 808.8L161.28 794.77L162.68 775.49L163.91 760.59L165.13 757.09L166.53 757.96L167.93 764.97L169.34 775.49L170.91 787.76L172.66 800.03L174.42 808.8L176.17 812.3L177.92 813.71L179.67 813.18L181.42 811.43L183.7 807.05L185.8 798.28L187.55 791.27L189.31 787.76L191.06 788.64L193.69 788.64L196.31 788.64L198.94 787.76L201.57 786.01L204.2 783.38L206.82 780.75L209.45 778.12L212.08 775.49L214.71 772.86L217.34 771.64L219.96 770.23L222.59 767.6L225.22 764.1L227.85 760.59L230.47 757.96L233.1 755.86L235.73 754.81L238.36 753.58L241.86 752.7L245.36 751.3L248.87 750.6L250 750.95L253.5 749.55L257.01 747.8L260.51 746.57L264.01 745.34L266.64 744.82L269.27 745.69L271.9 744.99L275.4 745.69L278.91 744.99L282.41 745.69L285.91 745.69L289.42 746.39L292.92 745.69L295.55 744.99L299.05 745.69L302.55 746.39L307.81 747.45L313.07 747.1L320.07 746.57L327.08 746.74L334.09 747.1L341.09 747.8L348.1 748.85L351.61 749.55" stroke="#F19A2C" stroke-width="2.8" fill="none" stroke-linejoin="round" stroke-linecap="butt"/>
<path d="M145.16 833.34L148.14 831.59L150.77 828.96L153.39 825.45L156.02 819.32L158.12 810.55L159.88 794.77L161.28 766.73L162.33 735.18L163.38 703.62L164.43 684.34L165.48 679.08L166.53 681.71L167.93 691.35L169.34 708.88L170.91 735.18L172.66 766.73L174.42 787.76L176.17 800.03L177.92 804.42L179.67 804.42L181.42 800.91L183.18 793.02L184.93 780.75L186.68 768.48L188.08 764.1L189.66 764.1L191.41 768.48L193.69 773.74L196.31 777.25L198.94 779L201.57 778.65L204.2 776.37L206.82 773.74L209.45 770.23L212.08 765.85L214.71 764.1L217.34 763.57L219.96 763.22L222.59 761.47L225.22 757.09L227.85 752.7L230.47 749.2L233.1 746.57L235.73 746.04L238.36 746.04L241.86 744.82L245.36 743.06L248.87 742.19L250 742.19L253.5 740.08L257.01 738.33L260.51 737.28L264.01 736.93L267.52 736.93L271.9 737.28L276.28 738.33L282.41 739.56L288.54 739.73L295.55 740.08L302.55 740.78L309.56 741.84L316.57 743.59L323.58 744.82L330.58 745.69L337.59 746.39L344.6 747.1L351.61 747.97" stroke="#A6194A" stroke-width="2.8" fill="none" stroke-linejoin="round" stroke-linecap="butt"/>
<path d="M449.64 721.15L452.26 722.43L453.31 720.42L454.36 718.55L454.58 720.71L454.79 723.49L455 725.34L455.21 727.96L455.42 730.24L456.64 733.15L457.87 732.43L458.22 734.87L458.57 737.68L458.92 739.94L459.27 742.56L459.71 744.15L460.15 747.12L460.58 748.49L461.02 750.89L461.72 753.61L462.42 755.12L463.12 758.07L464.26 760.94L465.4 762.98L467.15 766.26L469.43 765.98L470.31 763.39L471.18 760.35L472.93 756.93L473.99 754.61L475.04 752.56L476.35 749.44L477.66 747.54L478.98 745.6L480.29 743.21L482.92 739.68L485.55 737.3L488.18 736.24L490.8 737.09L493.43 736L496.06 736.98L498.69 735.4L500.44 738L502.19 734.71L503.94 738.27L506.22 738.09L508.32 735.96L509.37 738.62L510.42 740.37L512.7 736.86L515.33 735.86L517.96 736.86L520.58 737.8L523.21 737.4L526.72 735.62L529.34 739.39L531.97 736.39L534.6 737.49L537.23 735.48L539.85 737.04L542.63 738.4L545.26 736.35L546.57 737.9L547.88 739.84L549.64 736.24L551.39 739.9L552.53 737.38L553.66 735.64L554.72 738.42L555.77 740.2L557.52 737.11L560.15 736.76L562.77 738.42L565.4 736.54L567.68 734.72L569.78 734.93L571.09 736.83L572.41 738.86L575.04 736.66L577.66 738.32L580.29 736.98L582.92 738.3L585.55 737.16L588.18 738.86L590.8 737.07L593.43 739.05L596.06 737.32L598.69 737.39L601.31 735.07L603.94 737.23L606.57 736.38L609.2 735.79L611.82 734.62L613.58 734.07L615.68 734.36" stroke="#3DAA5C" stroke-width="2.65" fill="none" stroke-linejoin="round" stroke-linecap="butt"/>
<path d="M449.64 821.94L452.26 819.72L454.89 816.83L456.2 814.52L457.52 812.22L458.76 810.94L460 808.73L461.5 807.56L463.01 806.07L464.51 803.59L466.02 801.87L467.52 799.65L469.02 797.79L470.15 795.39L471.28 793.35L472.41 790.12L473.53 788.26L474.04 785.44L474.54 783.65L475.04 782.03L475.54 779.2L476.04 777.8L476.54 776.04L476.94 772.95L477.34 771.09L477.74 768.31L478.05 766.24L478.35 763.73L478.65 761.72L478.95 759.92L479.25 758.4L479.55 755.36L479.85 753.55L480.15 751.7L480.45 749.4L480.75 746.74L481.05 744.54L481.35 743.13L481.65 741L481.95 738.68L482.26 736.33L482.63 734.6L483.01 732.84L483.38 729.75L483.76 728.08L484.14 725.12L484.51 723.02L484.89 721.23L485.26 718.53L485.76 715.67L486.27 713.4L486.77 711.36L487.27 709.08L487.77 707.2L488.27 704.65L488.77 703.43L489.27 700.88L489.77 699.62L490.53 696.76L491.28 693.8L492.18 692.02L493.08 690.35L494.89 687.89L496.84 685.82L498.35 684.98L500.3 682.88L502.11 683.62L503.91 683.63L504.74 681.58L505.56 678.54L506.92 681.97L508.87 681.22L511.13 680.13L513.38 681.4L515.64 680.23L517.89 678.09L520 680.36L522.34 679.96L524.96 680.56L527.59 679.42L530.22 681.41L532.85 680.45L535.47 678.96L538.1 679.96L540.73 678.35L542.63 677L545.26 680L547.88 680.07L550.51 682.48L551.56 679.91L552.61 677.13L554.89 679.35L557.52 678L560.15 677.28L561.46 678.97L562.77 681.07L565.4 678.48L568.03 679.57L569.78 678.37L570.66 675.72L571.53 674.15L572.23 676.03L572.93 677.48L573.64 680.1L575.91 677.68L578.54 675.04L579.85 678.58L581.17 680.06L583.8 677.04L586.42 678.16L587.74 676.47L589.05 675.14L590.8 677.51L592.55 675.48L593.87 677.26L595.18 679.61L596.06 677.28L596.93 675.69L597.81 673.55L600.44 671.25L602.19 668.35L603.94 667.87L605.08 665.26L606.22 661.96L607.45 659.58L608.67 656.81L609.81 654.66L610.95 651.5L612.09 649.01L613.23 646.82L614.1 644.21L614.98 641.76L615.59 640.32L616.2 637.86" stroke="#000000" stroke-width="2.65" fill="none" stroke-linejoin="round" stroke-linecap="butt"/>
<path d="M449.11 813.18L450.51 812.14L451.21 815.09L451.91 817.45L453.14 813.88L454.36 815.72L456.12 818.85L457.52 817.41L457.99 815.53L458.45 812.73L458.92 810.46L460.67 812.06L462.77 809.69L465.4 808.3L467.15 806.6L468.91 807.61L471.18 804.93L473.28 802.86L474.6 800.22L475.91 797.33L477.23 794.76L478.54 791.91L479.85 789.71L481.17 786.58L482.48 783.9L483.8 781.63L485.11 779.22L486.42 776.06L487.74 773.65L489.05 771.83L490.36 769.01L491.68 767.19L493.43 765.58L496.06 765.43L498.69 764.34L501.31 765.11L503.94 766.83L506.57 764.54L509.2 765.98L511.82 765.48L514.45 764.02L517.08 765.08L519.71 765.2L522.34 764.75L524.96 764.61L527.59 763.11L530.22 764.8L532.85 764.41L535.47 763.81L538.1 764.76L540.73 764.59L542.63 765.25L545.26 765.51L547.88 764.45L550.51 763.61L553.14 764.59L555.77 765.17L558.39 764.75L561.02 765.66L563.65 764.91L566.28 763.6L568.91 765.65L571.53 763.78L575.04 764.61L577.66 763.17L580.29 764.35L583.8 763.49L587.3 762.88L590.8 764.07L593.43 761.73L596.06 762.59L598.69 761.5L601.31 760.08L603.94 758.42L606.57 755.8L609.2 753.2L611.82 751.05L613.93 748.58L616.2 747.12" stroke="#0000FF" stroke-width="2.65" fill="none" stroke-linejoin="round" stroke-linecap="butt"/>
<path d="M166.5 641.4L165.86 669.1" stroke="#000000" stroke-width="1.55" fill="none"/>
<path d="M165.7 675.9L162.03 666.01L165.89 667.9L169.83 666.19Z" fill="#000000"/>
<path d="M189.7 722L188.98 749.4" stroke="#0000FF" stroke-width="1.55" fill="none"/>
<path d="M188.8 756.2L185.16 746.3L189.01 748.2L192.96 746.51Z" fill="#0000FF"/>
<path d="M267.9 687.8L267.34 714.3" stroke="#3DAA5C" stroke-width="1.55" fill="none"/>
<path d="M267.2 721.1L263.51 711.22L267.37 713.1L271.31 711.38Z" fill="#3DAA5C"/>
<text transform="translate(92.8 733.2) rotate(-90)" font-size="27.0" text-anchor="middle" fill="#000">normalized O. D.</text>
<text transform="translate(-0.8 773.4) scale(0.779 1)" font-size="30.2" font-weight="bold" fill="#000" stroke="#000" stroke-width="0.6" stroke-linejoin="round">PC</text>
<path d="M129.4 907V1134.2" stroke="#000" stroke-width="2.6" fill="none"/>
<path d="M128.1 1132.9H363.7" stroke="#000" stroke-width="2.6" fill="none"/>
<path d="M122.6 1122.5h5.5M122.6 1060.25h5.5M122.6 998h5.5M122.6 935.75h5.5M165 1134.2v5.5M227.66 1134.2v5.5M290.33 1134.2v5.5M353 1134.2v5.5" stroke="#2b2b2b" stroke-width="2.7" fill="none"/>
<g font-size="21.6" fill="#4D4D4D">
<text x="117.2" y="1129.7" text-anchor="end">0</text>
<text x="117.2" y="1067.45" text-anchor="end">1</text>
<text x="117.2" y="1005.2" text-anchor="end">2</text>
<text x="117.2" y="942.95" text-anchor="end">3</text>
<text x="165" y="1160.6" text-anchor="middle">285</text>
<text x="227.66" y="1160.6" text-anchor="middle">290</text>
<text x="290.33" y="1160.6" text-anchor="middle">295</text>
<text x="353" y="1160.6" text-anchor="middle">300</text>
</g>
<path d="M437.9 922.9V1134.1" stroke="#000" stroke-width="2.6" fill="none"/>
<path d="M436.6 1132.8H672.2" stroke="#000" stroke-width="2.6" fill="none"/>
<path d="M431.1 1122.5h5.5M431.1 1060.15h5.5M431.1 997.8h5.5M431.1 935.45h5.5M448.3 1134.1v5.5M501.55 1134.1v5.5M554.8 1134.1v5.5M608.05 1134.1v5.5M661.3 1134.1v5.5" stroke="#2b2b2b" stroke-width="2.7" fill="none"/>
<g font-size="21.6" fill="#4D4D4D">
<text x="425.4" y="1129.7" text-anchor="end">0</text>
<text x="425.4" y="1067.35" text-anchor="end">1</text>
<text x="425.4" y="1005" text-anchor="end">2</text>
<text x="425.4" y="942.65" text-anchor="end">3</text>
<text x="448.3" y="1160.5" text-anchor="middle">0</text>
<text x="501.55" y="1160.5" text-anchor="middle">500</text>
<text x="554.8" y="1160.5" text-anchor="middle">1000</text>
<text x="608.05" y="1160.5" text-anchor="middle">1500</text>
<text x="661.3" y="1160.5" text-anchor="middle">2000</text>
</g>
<rect x="448.2" y="1121.5" width="40.5" height="11.3" fill="#5B4BA0"/>
<rect x="488.7" y="1121.5" width="159.4" height="11.3" fill="#A6194A"/>
<path d="M144.64 1119.48L146.56 1121.59" stroke="#F19A2C" stroke-width="2.8" fill="none" stroke-linejoin="round" stroke-linecap="butt"/>
<path d="M146.21 1120.88L148.31 1122.64" stroke="#A6194A" stroke-width="2.8" fill="none" stroke-linejoin="round" stroke-linecap="butt"/>
<path d="M154.09 1119.48L154.45 1122.99" stroke="#A6194A" stroke-width="1.3" fill="none" stroke-linejoin="round" stroke-linecap="butt"/>
<path d="M157.42 1118.96L159.53 1121.59L161.28 1117.2L163.03 1113.7L164.78 1111.07L167.41 1110.19L169.16 1112.82L170.91 1117.2L173.19 1119.83L175.29 1120.71L177.04 1120.71L178.45 1115.45L179.67 1119.83L181.42 1118.96L183.18 1117.2L184.93 1114.57L186.68 1108.44L187.91 1100.55L189.31 1088.28L190.71 1077.76L192.11 1069L193.69 1061.11L195.44 1058.48L196.66 1049.72L198.07 1045.33L199.47 1047.09L201.22 1045.33L203.32 1044.81L205.07 1041.83L206.82 1046.21L208.58 1047.09L210.68 1048.31L212.96 1047.61L214.71 1044.81L216.46 1047.96L218.21 1044.11L219.96 1048.31L221.72 1047.96L223.47 1048.31L225.22 1040.95L226.97 1037.45L228.72 1034.82L230.47 1032.19L232.23 1030.08L234.85 1029.56L236.61 1027.28L238.36 1025.18L240.11 1023.42L242.74 1021.32L245.01 1019.04L247.12 1019.57L249.74 1020.79L250 1020.79L251.75 1021.67L254.38 1015.53L257.88 1018.16L261.39 1020.79L264.01 1022.55L266.64 1020.79L270.15 1019.92L273.65 1021.32L276.63 1023.42L279.78 1030.43L282.93 1026.93L285.91 1030.08L289.42 1033.24L295.55 1033.41L301.68 1034.82L305.18 1039.2L308.16 1042.7L311.31 1040.6L314.47 1038.85L320.07 1038.32L326.2 1040.95L329.71 1039.2L333.21 1037.45L336.72 1040.6L339.34 1043.06L345.47 1040.95L351.96 1042.7" stroke="#5B4BA0" stroke-width="2.8" fill="none" stroke-linejoin="round" stroke-linecap="butt"/>
<path d="M157.42 1118.08L159.53 1119.83L161.28 1114.57L163.03 1111.07L164.78 1107.91L167.41 1107.56L170.04 1108.44L171.79 1114.57L173.89 1118.08L176.17 1119.83L177.92 1120.71L179.67 1118.96L180.9 1120.71L182.65 1118.96L184.4 1115.45L186.15 1109.32L187.55 1093.54L188.96 1074.26L190.36 1058.48L191.93 1042.7L193.69 1030.43L195.44 1022.55L197.19 1017.29L198.94 1017.29L200.69 1020.27L202.45 1023.42L204.2 1026.93L205.95 1029.56L207.7 1030.78L209.45 1030.43L210.68 1033.06L212.96 1033.06L214.71 1031.31L216.46 1033.06L218.21 1032.19L219.96 1031.31L221.72 1030.78L223.47 1030.08L225.22 1026.93L226.97 1023.42L228.72 1019.92L230.47 1016.41L232.23 1012.9L233.98 1012.03L235.73 1011.15L237.48 1008.52L239.23 1006.77L240.99 1005.02L242.74 1002.39L244.49 1000.28L246.77 999.23L248.87 1000.28L250 1001.51L252.1 1000.28L254.38 998.88L257.01 999.76L259.64 1002.04L261.91 1002.74L263.66 1002.04L265.77 1005.89L267.52 1007.3L269.62 1006.77L271.9 1009.4L274.18 1010.8L276.28 1009.75L278.38 1012.9L280.66 1015.01L283.28 1016.06L286.79 1017.29L290.29 1018.16L295.55 1019.57L300.8 1022.55L304.31 1025.18L307.81 1027.63L313.07 1027.28L320.07 1028.68L327.08 1028.68L334.09 1030.08L341.09 1031.49L346.35 1032.71L351.96 1033.94" stroke="#A6194A" stroke-width="2.8" fill="none" stroke-linejoin="round" stroke-linecap="butt"/>
<path d="M449.64 1011.77L450.51 1037.19L451.56 1054.72L452.61 1063.48L454.01 1061.73L455.42 1052.96L456.64 1046.3L457.87 1051.21L459.27 1063.48L460.67 1079.26L461.37 1081.89L462.77 1072.25L464.18 1065.23L465.93 1068.74L467.15 1070.49L468.91 1069.09L470.66 1072.25L472.41 1068.74L474.16 1061.73L475.91 1057.35L477.66 1056.82L479.42 1047.7L480.64 1043.32L482.04 1044.2L483.45 1047.7L485.2 1040.69L486.95 1031.93L488.7 1029.3L490.45 1030.18L491.68 1026.67L493.08 1023.16L494.66 1027.55L496.41 1028.77L497.81 1019.66L499.56 1007.39L500.96 1028.42L502.36 1018.78L503.94 1019.66L505.69 1021.41L507.45 1020.53L509.2 1017.9L510.42 1016.15L511.82 1022.29L513.58 1016.15L515.33 1021.41L516.73 1017.9L518.48 1033.33L520.23 1024.92L521.99 1026.67L523.74 1025.27L525.49 1028.42L527.59 1029.3L529.34 1027.55L531.09 1024.92L532.85 1024.04L534.6 1024.92L536 1034.03L537.75 1028.42L539.5 1025.79L542.1 1030.18L543.5 1017.03L544.91 1016.15L546.66 1017.03L548.41 1016.15L550.16 1030.18L551.91 1020.53L553.66 1020.53L555.42 1021.41L557.17 1025.79L558.92 1017.03L560.67 1015.8L562.42 1015.28L564.18 1018.78L565.93 1022.29L567.68 1023.16L569.43 1021.41L571.18 1013.52L572.41 1011.77L573.64 1014.4L575.04 1010.54L576.79 1009.14L578.54 1010.02L580.29 1007.39L582.04 1006.51L583.8 1007.39L585.55 1005.98L587.3 1006.51L589.05 1010.02L590.45 1013.52L592.2 1003.88L593.43 1004.76L595.18 998.62L596.41 1010.89L597.81 1005.63L599.56 1007.39L601.66 1016.15L603.42 1007.39L605.17 1006.51L606.92 1012.65L608.67 1007.39L610.07 1012.65L611.47 1017.9L612.7 1023.16L613.93 1020.53L615.68 1019.66L617.96 1018.78L619.18 1010.89L620.93 1019.66L622.69 1017.9L624.09 1022.29L625.49 1025.79L627.24 1024.92L628.99 1032.28L630.74 1030.18L631.97 1025.79L633.72 1023.16L635.47 1034.56L637.23 1028.42L638.98 1024.92L640.73 1026.67L641.96 1031.93L643.36 1030.18L644.76 1034.56L646.86 1024.92" stroke="#000000" stroke-width="2.65" fill="none" stroke-linejoin="round" stroke-linecap="butt"/>
<path d="M450.16 943.93L450.86 968.82L451.91 998.62L452.96 1026.67L454.01 998.62L455.07 988.98L456.47 991.61L457.87 1002.13L459.27 1018.78L461.02 1021.41L462.77 1024.04L464.18 1028.42L465.93 1020.53L467.33 1023.16L468.91 1012.65L470.66 1020.53L472.41 1026.67L474.16 1027.55L475.91 1023.16L477.66 1019.66L478.89 1019.66L480.29 1011.77L482.04 1015.28L483.8 1016.15L485.55 1018.78L486.95 1007.39L488.18 1001.25L489.93 1007.39L491.33 1019.66L492.55 1009.14L494.31 1010.89L496.06 1014.4L497.46 1003.88L499.56 1000.38L501.31 998.62L502.72 994.24L504.47 1010.02L505.69 995.99L507.45 998.62L509.2 1005.63L510.95 1004.76L512.18 995.12L513.93 1004.76L515.33 999.5L516.73 994.24L518.48 1010.02L520.23 1007.39L521.64 1001.25L523.21 1011.77L524.96 1000.38L526.36 989.86L527.94 1008.26L529.69 1005.63L531.45 1003.88L532.85 1006.51L534.6 997.75L536.35 996.87L537.75 1000.38L539.5 997.75L541.4 1002.13L542.63 1005.63L544.38 993.36L545.78 982.85L547.36 1006.51L548.76 1000.38L550.16 1009.14L551.91 992.49L553.14 1003.88L554.89 991.61L556.12 1003.88L557.52 995.12L559.27 1002.13L561.02 1007.39L562.77 1008.26L564.53 999.5L565.93 1003.01L567.68 997.75L569.78 1000.38L571.53 998.62L573.28 1002.13L575.04 996.87L577.14 993.36L578.89 999.5L580.64 1004.76L582.39 998.62L584.15 994.24L585.9 995.99L587.65 995.12L589.4 996.87L591.15 998.62L592.55 994.24L593.96 1002.13L595.71 995.12L596.93 994.24L598.69 1000.38L600.44 1004.76L601.66 996.87L603.42 1002.13L604.82 992.49L606.22 1002.13L607.97 1009.14L609.2 1003.88L610.6 999.5L612.18 1005.63L613.58 1009.14L615.68 1006.51L617.96 1007.39L619.71 1005.63L621.99 1003.01L623.74 1009.14L624.96 1014.4L626.19 1013.52L627.59 1019.66L628.99 1027.55L630.22 1030.18L631.97 1026.67L633.72 1035.43L635.47 1037.19L637.23 1038.94L638.45 1040.69L640.2 1037.19L641.61 1041.57L643.01 1047.7L644.76 1038.94L646.51 1036.31" stroke="#0000FF" stroke-width="2.65" fill="none" stroke-linejoin="round" stroke-linecap="butt"/>
<path d="M199.5 977.5L198.94 1004.7" stroke="#000000" stroke-width="1.55" fill="none"/>
<path d="M198.8 1011.5L195.1 1001.62L198.96 1003.5L202.9 1001.78Z" fill="#000000"/>
<path d="M253.5 961.7L252.7 988.9" stroke="#0000FF" stroke-width="1.55" fill="none"/>
<path d="M252.5 995.7L248.89 985.79L252.74 987.7L256.69 986.02Z" fill="#0000FF"/>
<text transform="translate(92.8 1019.4) rotate(-90)" font-size="27.0" text-anchor="middle" fill="#000">normalized O. D.</text>
<text transform="translate(-0.8 1061.9) scale(0.779 1)" font-size="30.2" font-weight="bold" fill="#000" stroke="#000" stroke-width="0.6" stroke-linejoin="round">PP</text>
<text transform="translate(235.6 21.2) scale(0.786 1)" font-size="30.5" font-weight="bold" text-anchor="middle" fill="#000" stroke="#000" stroke-width="0.6" stroke-linejoin="round">A</text>
<text transform="translate(546.4 21.2) scale(0.786 1)" font-size="30.5" font-weight="bold" text-anchor="middle" fill="#000" stroke="#000" stroke-width="0.6" stroke-linejoin="round">B</text>
<text x="246.3" y="1190" font-size="27.0" text-anchor="middle" fill="#000">photon energy [eV]</text>
<text x="557.5" y="1190" font-size="27.0" text-anchor="middle" fill="#000">depth [nm]</text>
</svg>
</body>
</html>
